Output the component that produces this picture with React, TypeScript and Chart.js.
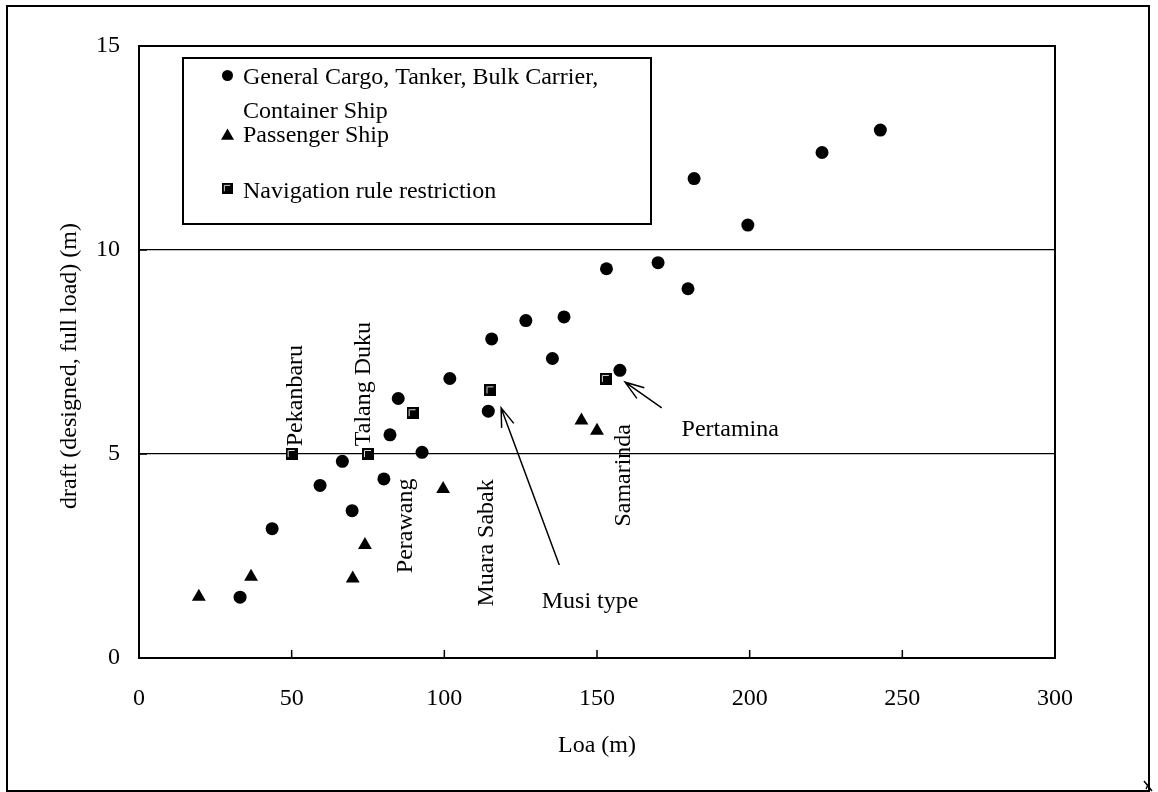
import React, { useEffect, useRef } from "react";
import { Chart, registerables } from "chart.js";

Chart.register(...registerables);

// General cargo, tanker, bulk carrier and container ships
const cargoLoa = [33.1, 43.6, 59.3, 66.6, 69.8, 80.2, 82.2, 84.9, 92.7, 101.8, 114.4, 115.5, 126.7, 135.4, 139.2, 153.1, 157.5, 170.0, 179.8, 181.8, 199.4, 223.7, 242.8];
const cargoDraft = [1.49, 3.17, 4.23, 4.82, 3.61, 4.39, 5.47, 6.36, 5.04, 6.85, 6.05, 7.82, 8.27, 7.34, 8.36, 9.54, 7.05, 9.69, 9.05, 11.75, 10.61, 12.39, 12.94];

// Passenger ships
const passengerLoa = [19.6, 36.7, 70.0, 74.0, 99.6, 144.9, 150.0];
const passengerDraft = [1.5, 1.99, 1.95, 2.77, 4.14, 5.82, 5.57];

// Ports with a navigation rule restriction
const restrictionLoa = [50, 75, 89.6, 115.1, 152.9];
const restrictionDraft = [5.0, 5.0, 6.0, 6.56, 6.84];

const legendLines = [
  "General Cargo, Tanker, Bulk Carrier,",
  "Container Ship",
  "Passenger Ship",
  "Navigation rule restriction",
];

const xTitle = "Loa (m)";
const yTitle = "draft (designed, full load) (m)";

// Vertical place names: [text, loa, draft] at the start of the text
const placeNames: [string, number, number][] = [
  ["Pekanbaru", 53.3, 5.19],
  ["Talang Duku", 75.6, 5.19],
  ["Perawang", 89.3, 2.08],
  ["Muara Sabak", 116.0, 1.26],
  ["Samarinda", 160.8, 3.22],
];

// Callouts: [text, text loa, text draft, arrow start loa, start draft, tip loa, tip draft]
const callouts: [string, number, number, number, number, number, number][] = [
  ["Musi type", 131.9, 1.23, 137.65, 2.28, 118.6, 6.13],
  ["Pertamina", 177.7, 5.43, 171.2, 6.13, 159.2, 6.76],
];

const FONT = "'Liberation Serif', 'Times New Roman', serif";

function makeSquareIcon(): HTMLCanvasElement {
  const c = document.createElement("canvas");
  c.width = 12;
  c.height = 12;
  const g = c.getContext("2d")!;
  g.fillStyle = "#000";
  g.fillRect(0, 0, 12, 12);
  g.strokeStyle = "#d8d8d8";
  g.lineWidth = 1;
  g.beginPath();
  g.moveTo(2.5, 9);
  g.lineTo(2.5, 2.5);
  g.lineTo(9, 2.5);
  g.stroke();
  return c;
}

function drawArrow(ctx: CanvasRenderingContext2D, x0: number, y0: number, x1: number, y1: number) {
  ctx.beginPath();
  ctx.moveTo(x0, y0);
  ctx.lineTo(x1, y1);
  const a = Math.atan2(y0 - y1, x0 - x1);
  const len = 20;
  const spread = 0.33;
  ctx.moveTo(x1 + Math.cos(a + spread) * len, y1 + Math.sin(a + spread) * len);
  ctx.lineTo(x1, y1);
  ctx.lineTo(x1 + Math.cos(a - spread) * len, y1 + Math.sin(a - spread) * len);
  ctx.stroke();
}

export default function App() {
  const ref = useRef<HTMLCanvasElement | null>(null);

  useEffect(() => {
    const square = makeSquareIcon();

    const decorations = {
      id: "decorations",
      afterDraw(chart: any) {
        const ctx: CanvasRenderingContext2D = chart.ctx;
        const area = chart.chartArea;
        const xs = chart.scales.x;
        const ys = chart.scales.y;
        ctx.save();
        ctx.strokeStyle = "#000";
        ctx.fillStyle = "#000";

        // plot frame
        ctx.lineWidth = 2;
        ctx.strokeRect(area.left, area.top, area.right - area.left, area.bottom - area.top);

        // inward tick marks
        ctx.lineWidth = 1.5;
        ctx.beginPath();
        for (const t of xs.ticks) {
          const px = xs.getPixelForValue(t.value);
          ctx.moveTo(px, area.bottom);
          ctx.lineTo(px, area.bottom - 8);
        }
        for (const t of ys.ticks) {
          const py = ys.getPixelForValue(t.value);
          ctx.moveTo(area.left, py);
          ctx.lineTo(area.left + 8, py);
        }
        ctx.stroke();

        ctx.font = `24px ${FONT}`;

        // y axis title, set slightly below the plot centre
        ctx.save();
        ctx.translate(70, (area.top + area.bottom) / 2 + 14);
        ctx.rotate(-Math.PI / 2);
        ctx.textAlign = "center";
        ctx.textBaseline = "middle";
        ctx.fillText(yTitle, 0, 0);
        ctx.restore();

        // legend
        ctx.lineWidth = 2;
        ctx.strokeRect(183, 58, 468, 166);
        ctx.textAlign = "left";
        ctx.textBaseline = "alphabetic";
        ctx.beginPath();
        ctx.arc(227.5, 75.5, 5.5, 0, Math.PI * 2);
        ctx.fill();
        ctx.fillText(legendLines[0], 243, 84);
        ctx.fillText(legendLines[1], 243, 118);
        const tr = 7.5;
        ctx.beginPath();
        ctx.moveTo(227.5, 136 - tr);
        ctx.lineTo(227.5 + tr * 0.866, 136 + tr * 0.5);
        ctx.lineTo(227.5 - tr * 0.866, 136 + tr * 0.5);
        ctx.closePath();
        ctx.fill();
        ctx.fillText(legendLines[2], 243, 142);
        ctx.drawImage(square, 222, 183, 11, 11);
        ctx.fillText(legendLines[3], 243, 198);

        // vertical place names
        for (const [text, lx, ly] of placeNames) {
          ctx.save();
          ctx.translate(xs.getPixelForValue(lx), ys.getPixelForValue(ly));
          ctx.rotate(-Math.PI / 2);
          ctx.textAlign = "left";
          ctx.textBaseline = "alphabetic";
          ctx.fillText(text, 0, 0);
          ctx.restore();
        }

        // callouts with arrows
        ctx.lineWidth = 1.5;
        for (const [text, tx, ty, sx, sy, ex, ey] of callouts) {
          ctx.fillText(text, xs.getPixelForValue(tx), ys.getPixelForValue(ty));
          drawArrow(
            ctx,
            xs.getPixelForValue(sx),
            ys.getPixelForValue(sy),
            xs.getPixelForValue(ex),
            ys.getPixelForValue(ey)
          );
        }

        // outer frame
        ctx.lineWidth = 2;
        ctx.strokeRect(7, 6, 1142, 785);
        ctx.lineWidth = 1.5;
        ctx.beginPath();
        ctx.moveTo(1144, 781);
        ctx.lineTo(1152, 791);
        ctx.moveTo(1149, 783);
        ctx.lineTo(1146, 789);
        ctx.stroke();

        ctx.restore();
      },
    };

    const toPoints = (xs: number[], ys: number[]) => xs.map((x, i) => ({ x, y: ys[i] }));

    const chart = new Chart(ref.current!, {
      type: "scatter",
      data: {
        datasets: [
          {
            label: legendLines[0] + " " + legendLines[1],
            data: toPoints(cargoLoa, cargoDraft),
            pointStyle: "circle",
            pointRadius: 6.5,
            pointBorderWidth: 0,
            backgroundColor: "#000",
            borderColor: "#000",
          },
          {
            label: legendLines[2],
            data: toPoints(passengerLoa, passengerDraft),
            pointStyle: "triangle",
            pointRadius: 8,
            pointBorderWidth: 0,
            backgroundColor: "#000",
            borderColor: "#000",
          },
          {
            label: legendLines[3],
            data: toPoints(restrictionLoa, restrictionDraft),
            pointStyle: square,
            pointRadius: 6,
            backgroundColor: "#000",
            borderColor: "#000",
          },
        ],
      },
      options: {
        animation: false,
        responsive: false,
        events: [],
        layout: { padding: { left: 0, top: 46, right: 103, bottom: 0 } },
        plugins: {
          legend: { display: false },
          tooltip: { enabled: false },
          title: { display: false },
        },
        scales: {
          x: {
            type: "linear",
            min: 0,
            max: 300,
            afterFit: (s: any) => {
              s.height = 134;
            },
            ticks: {
              stepSize: 50,
              padding: 26,
              color: "#000",
              font: { family: FONT, size: 24 },
            },
            grid: { display: false, drawTicks: false },
            border: { display: false },
            title: {
              display: true,
              text: xTitle,
              color: "#000",
              font: { family: FONT, size: 24 },
              padding: { top: 0, bottom: 32 },
            },
          },
          y: {
            type: "linear",
            min: 0,
            max: 15,
            afterFit: (s: any) => {
              s.width = 139;
            },
            ticks: {
              stepSize: 5,
              padding: 19,
              color: "#000",
              font: { family: FONT, size: 24 },
            },
            grid: {
              drawTicks: false,
              lineWidth: 1.2,
              color: (c: any) =>
                c.tick && c.tick.value > 0 && c.tick.value < 15 ? "#000" : "rgba(0,0,0,0)",
            },
            border: { display: false },
            title: { display: false },
          },
        },
      },
      plugins: [decorations],
    });

    return () => chart.destroy();
  }, []);

  return (
    <div style={{ position: "fixed", left: 0, top: 0, width: 1158, height: 792, background: "#fff" }}>
      <canvas ref={ref} width={1158} height={792} style={{ display: "block", width: 1158, height: 792 }} />
    </div>
  );
}
